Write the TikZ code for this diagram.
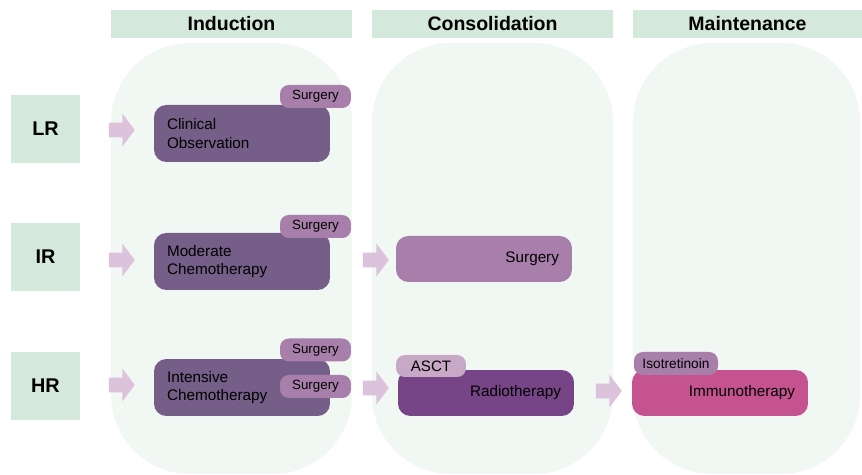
\documentclass[tikz,border=0pt]{standalone}
\usepackage{fontspec}
\setmainfont{Liberation Sans}
\usetikzlibrary{positioning, shapes.arrows}

\definecolor{hdrgreen}{HTML}{D5E8DC}
\definecolor{colbg}{HTML}{F1F7F3}
\definecolor{arrpink}{HTML}{DCC3DB}
\definecolor{darkplum}{HTML}{755E87}
\definecolor{tagplum}{HTML}{A87FAB}
\definecolor{lightplum}{HTML}{C7A8C7}
\definecolor{radplum}{HTML}{774487}
\definecolor{immpink}{HTML}{C55390}

\begin{document}
\begin{tikzpicture}[x=0.02cm, y=-0.02cm,
	phase/.style={fill=hdrgreen, minimum height=0.56cm, inner sep=0pt, font=\fontsize{11.1}{13}\selectfont\bfseries},
	risk/.style={fill=hdrgreen, minimum width=1.38cm, minimum height=1.36cm, font=\fontsize{11.3}{13}\selectfont\bfseries},
	flow/.style={single arrow, fill=arrpink, minimum height=0.52cm, inner xsep=0pt, inner ysep=0.14cm, single arrow head extend=0.18cm, single arrow tip angle=106},
	treat/.style={rounded corners=7pt, fill=darkplum, inner xsep=0.26cm, inner ysep=0pt, text width=3.0cm, minimum height=1.14cm, font=\fontsize{8.7}{10.4}\selectfont},
	tag/.style={rounded corners=5pt, fill=tagplum, inner sep=0pt, minimum width=1.42cm, minimum height=0.46cm, font=\fontsize{7.6}{9}\selectfont}]

	\useasboundingbox (0,0) rectangle (862,475);

	% column backgrounds
	\fill[colbg, rounded corners=45pt] (111,43) rectangle (352,474);
	\fill[colbg, rounded corners=45pt] (372,43) rectangle (613,474);
	\fill[colbg, rounded corners=45pt] (633,43) rectangle (860,474);

	% phase headers
	\node[phase, minimum width=4.82cm] (Induction) at (231.5,24) {Induction};
	\node[phase, minimum width=4.82cm] (Consolidation) at (492.5,24) {Consolidation};
	\node[phase, minimum width=4.58cm] (Maintenance) at (747.5,24) {Maintenance};

	% risk groups
	\foreach \name/\y in {LR/129, IR/257, HR/386}
	{
		\node[risk] (\name) at (45.5,\y) {\name};
	}

	% flow arrows
	\foreach \name/\position in {aLR/{(119,130)}, aIR/{(119,260)}, aHR/{(119,385)}, bIR/{(373,260)}, bHR/{(373,388)}, cHR/{(606,391)}}
	{
		\node[flow] (\name) at \position {};
	}

	% treatments
	\node[treat, align=left] (Clinical) at (242,133.5) {Clinical\\Observation};
	\node[treat, align=left] (Moderate) at (242,261.5) {Moderate\\Chemotherapy};
	\node[treat, align=left] (Intensive) at (242,387.5) {Intensive\\Chemotherapy};
	\node[treat, align=right, fill=tagplum, minimum height=0.92cm] (ConsSurgery) at (484,259) {Surgery};
	\node[treat, align=right, fill=radplum, minimum height=0.92cm] (Radio) at (486,393) {Radiotherapy};
	\node[treat, align=right, fill=immpink, minimum height=0.92cm] (Immuno) at (720,393) {Immunotherapy};

	% add-on tags
	\node[tag] (SurgLR) at (315.5,96.5) {Surgery};
	\node[tag] (SurgIR) at (315.5,226.5) {Surgery};
	\node[tag] (SurgHRa) at (315.5,350) {Surgery};
	\node[tag] (SurgHRb) at (315.5,386.5) {Surgery};
	\node[tag, fill=lightplum, minimum width=1.4cm, minimum height=0.44cm, font=\fontsize{8.6}{10}\selectfont] (ASCT) at (431,366) {ASCT};
	\node[tag, minimum width=1.68cm, font=\fontsize{7.8}{9}\selectfont] (Isotretinoin) at (676,363.5) {Isotretinoin};

\end{tikzpicture}
\end{document}
